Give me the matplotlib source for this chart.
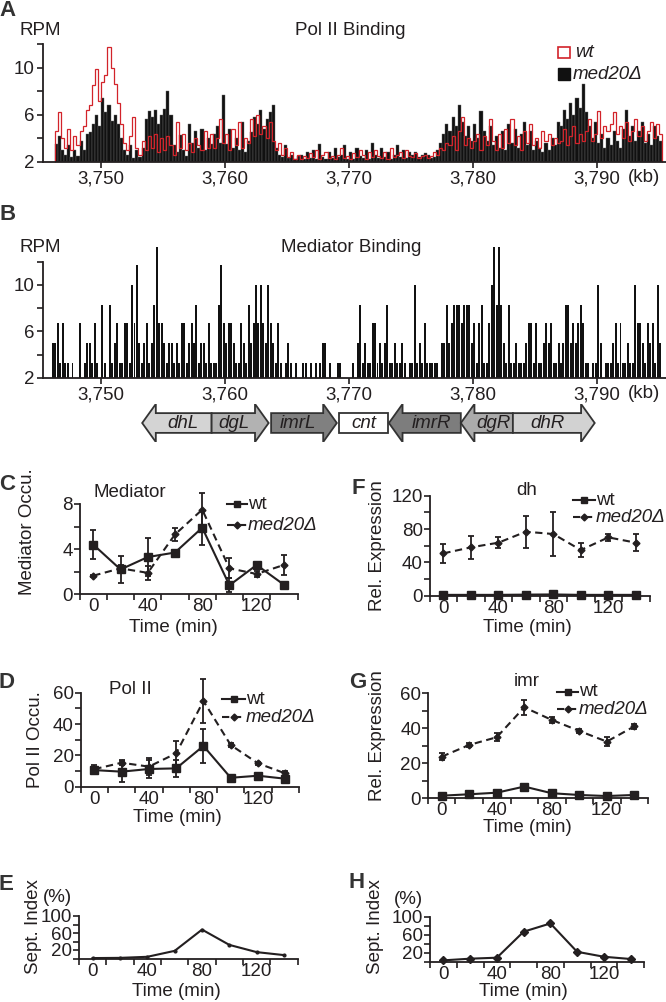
import numpy as np
import matplotlib
matplotlib.use("Agg")
import matplotlib.pyplot as plt
from matplotlib.patches import Polygon, Rectangle

plt.rcParams['font.family'] = ['Liberation Sans', 'DejaVu Sans']

W, H = 666, 1002
INK = '#231f20'
RED = '#d2232a'
FS = 13.5

# A: Pol II binding (RPM), 0.25 kb bins starting at 3746.25 kb
POL_BIN_START = 3746.25
POL_BIN_KB = 0.25
pol_med20 = [
    3.5, 4.2, 3.0,
    2.6, 3.4, 2.4, 3.0,  2.5, 3.8, 3.0, 4.4,  4.5, 5.2, 6.0, 5.0,
    7.4, 6.2, 6.8, 5.5,  6.0, 5.2, 4.0, 3.0,  2.6, 3.4, 2.3, 3.0,
    2.4, 3.2, 5.6, 6.3,  5.8, 6.4, 5.2, 6.0,  6.5, 8.0, 6.0, 3.4,
    2.8, 4.3, 3.0, 2.5,  5.2, 3.6, 4.6, 3.2,  4.8, 3.0, 4.0, 3.5,
    4.4, 5.0, 3.6, 7.7,  3.5, 4.8, 3.2, 4.0,  3.0, 5.4, 2.8, 3.8,
    4.5, 5.8, 5.2, 6.4,  4.8, 5.6, 6.2, 6.8,  3.2, 2.6, 2.4, 3.4,
    2.3, 2.6, 2.2, 2.5,  2.6, 2.2, 2.8, 2.3,  3.0, 2.2, 3.5, 2.4,
    2.2, 2.8, 2.3, 3.2,  2.4, 2.6, 3.4, 2.2,  2.8, 2.2, 3.2, 2.5,
    2.3, 3.0, 2.2, 3.6,  2.6, 2.3, 3.2, 2.4,  2.8, 2.2, 2.6, 3.4,
    2.4, 3.0, 2.3, 2.8,  2.6, 2.8, 2.4, 2.6,  2.7, 2.6, 2.3, 2.4,
    3.0, 3.6, 4.4, 5.2,  4.6, 5.8, 5.0, 6.8,  5.4, 4.2, 5.0, 3.8,
    5.2, 4.0, 6.3, 4.6,  3.8, 5.0, 3.4, 4.2,  3.2, 4.6, 3.0, 5.2,
    3.6, 4.8, 3.2, 4.4,  5.4, 3.4, 4.6, 3.0,  3.8, 3.2, 2.8, 3.6,
    3.0, 4.0, 3.4, 5.4,  5.0, 6.4, 5.6, 7.0,  6.0, 7.4, 6.6, 8.6,
    6.2, 5.0, 4.0, 5.4,  3.6, 4.4, 3.2, 4.0,  3.4, 4.6, 3.8, 3.2,
    4.8, 6.4, 4.2, 5.0,  3.8, 4.6, 5.4, 3.6,  4.4, 3.4, 5.0, 4.2,
    3.8,
]
pol_wt = [
    4.6, 6.2, 4.0,
    3.2, 4.8, 3.0, 4.2,  3.4, 4.6, 5.0, 6.4,  6.8, 8.5, 9.9, 7.2,
    8.8, 9.4, 11.8, 10.0,  8.6, 7.0, 5.2, 3.6,  3.0, 4.2, 5.8, 3.2,
    2.6, 3.8, 3.0, 4.2,  3.2, 4.4, 2.8, 4.0,  3.0, 4.2, 3.4, 2.6,
    5.4, 3.2, 4.4, 3.0,  3.6, 2.8, 4.0, 3.4,  3.0, 4.6, 3.2, 4.4,
    3.2, 4.0, 5.6, 3.6,  4.4, 3.0, 4.8, 3.4,  5.4, 3.2, 4.0, 3.6,
    5.6, 4.2, 6.0, 4.4,  5.0, 4.0, 5.4, 3.8,  3.0, 3.6, 2.6, 3.2,
    2.4, 2.8, 2.2, 2.6,  2.2, 2.5, 2.3, 2.7,  2.4, 3.0, 2.2, 2.6,
    2.8, 2.3, 2.5, 2.2,  2.6, 3.2, 2.3, 2.5,  2.2, 2.7, 2.4, 3.0,
    2.6, 2.2, 2.8, 2.4,  3.0, 2.5, 2.3, 2.8,  2.2, 3.2, 2.4, 2.6,
    2.8, 2.3, 3.0, 2.5,  2.4, 2.7, 2.3, 2.5,  2.6, 2.3, 2.5, 2.8,
    2.6, 3.2, 3.0, 3.6,  3.4, 4.2, 3.0, 4.6,  5.8, 3.4, 4.0, 3.2,
    3.8, 4.4, 3.0, 4.2,  3.4, 5.6, 3.8, 3.0,  4.4, 3.2, 4.8, 3.6,
    5.6, 3.4, 4.2, 3.0,  4.6, 3.6, 5.2, 3.4,  4.0, 3.2, 4.6, 3.8,
    4.4, 3.4, 4.0, 3.6,  3.8, 4.8, 3.4, 4.2,  5.0, 3.6, 4.4, 3.8,
    4.6, 5.6, 3.8, 4.4,  6.3, 4.0, 5.0, 4.6,  5.2, 6.2, 4.4, 5.0,
    4.0, 5.4, 3.8, 4.6,  5.6, 4.2, 5.0, 3.8,  4.6, 5.4, 4.0, 5.2,
    4.4,
]

# B: Mediator binding (RPM), 0.2 kb bins starting at 3746.0 kb, 0 = no reads
MED_BIN_START = 3746.0
MED_BIN_KB = 0.2
mediator = [
    5.0, 5.0, 6.7, 3.3, 6.7,   3.3, 3.3, 0, 3.3, 0,       0, 6.7, 0, 3.3, 5.0,
    5.0, 3.3, 6.7, 3.3, 0,     8.3, 3.3, 0, 8.3, 3.3,     5.0, 6.7, 3.3, 3.3, 6.7,
    6.7, 3.3, 10.0, 6.7, 11.7, 5.0, 3.3, 5.0, 6.7, 3.3,   5.0, 8.3, 13.3, 6.7, 6.7,
    5.0, 3.3, 5.0, 5.0, 3.3,   5.0, 3.3, 6.7, 6.7, 3.3,   5.0, 6.7, 5.0, 8.3, 3.3,
    5.0, 5.0, 3.3, 6.7, 3.3,   3.3, 3.3, 8.3, 11.7, 6.7,  5.0, 6.7, 6.7, 5.0, 3.3,
    3.3, 6.7, 5.0, 3.3, 8.3,   5.0, 6.7, 10.0, 6.7, 10.0, 6.7, 5.0, 10.0, 6.7, 5.0,
    3.3, 6.7, 3.3, 0, 3.3,     5.0, 3.3, 0, 3.3, 0,       0, 3.3, 3.3, 0, 3.3,
    0, 3.3, 0, 3.3, 5.0,       5.0, 0, 3.3, 0, 0,         3.3, 3.3, 0, 0, 0,
    0, 3.3, 0, 5.0, 8.3,       3.3, 5.0, 3.3, 3.3, 6.7,   6.7, 3.3, 5.0, 3.3, 5.0,
    8.3, 3.3, 3.3, 5.0, 3.3,   3.3, 5.0, 3.3, 0, 3.3,     3.3, 10.0, 3.3, 5.0, 3.3,
    6.7, 3.3, 3.3, 3.3, 3.3,   3.3, 0, 5.0, 5.0, 8.3,     5.0, 6.7, 8.3, 8.3, 8.3,
    6.7, 8.3, 8.3, 8.3, 5.0,   6.7, 3.3, 6.7, 8.3, 3.3,   3.3, 6.7, 10.0, 13.3, 8.3,
    13.3, 8.3, 5.0, 3.3, 8.3,  3.3, 3.3, 5.0, 3.3, 3.3,   3.3, 5.0, 6.7, 6.7, 3.3,
    6.7, 3.3, 3.3, 5.0, 6.7,   5.0, 6.7, 3.3, 3.3, 5.0,   3.3, 5.0, 8.3, 8.3, 5.0,
    6.7, 5.0, 6.7, 8.3, 6.7,   3.3, 3.3, 0, 3.3, 3.3,     10.0, 5.0, 0, 3.3, 3.3,
    3.3, 5.0, 6.7, 3.3, 6.7,   3.3, 3.3, 5.0, 3.3, 3.3,   10.0, 6.7, 6.7, 5.0, 3.3,
    6.7, 5.0, 6.7, 3.3, 10.0,  5.0,
]

# centromere 2 annotation (kb)
gene_names = ['dhL', 'dgL', 'imrL', 'cnt', 'imrR', 'dgR', 'dhR']
gene_start = [3753.3, 3758.9, 3763.7, 3769.2, 3773.2, 3779.0, 3783.2]
gene_end = [3758.9, 3763.5, 3769.0, 3773.1, 3779.0, 3783.2, 3789.8]
gene_head = ['left', 'right', 'right', None, 'left', 'left', 'right']
gene_fill = ['#d4d4d4', '#b2b2b2', '#808080', '#ffffff', '#7d7d7d', '#ababab', '#d2d2d2']

# time courses
time_min = [0, 20, 40, 60, 80, 100, 120, 140]

med_occ_wt = [4.4, 2.2, 3.3, 3.7, 5.9, 0.8, 2.6, 0.85]
med_occ_wt_err = [1.3, 1.2, 1.7, 0.2, 1.5, 0.6, 0.3, 0.2]
med_occ_mut = [1.65, 2.3, 1.9, 5.3, 7.5, 2.3, 1.8, 2.6]
med_occ_mut_err = [0.1, 0.3, 0.6, 0.6, 1.5, 0.9, 0.3, 0.9]

pol_occ_wt = [10.6, 9.6, 11.3, 11.7, 26.0, 5.7, 7.0, 5.1]
pol_occ_wt_err = [1.5, 6.5, 5.5, 5.5, 11.0, 1.0, 1.5, 1.5]
pol_occ_mut = [11.2, 15.3, 12.8, 21.3, 54.7, 26.6, 14.9, 8.5]
pol_occ_mut_err = [2.5, 1.5, 5.5, 8.0, 14.0, 1.0, 1.0, 1.5]

sept_wt = [1, 1.5, 4, 18, 68, 32, 15, 8]
sept_mut = [3, 6.7, 8.9, 66.7, 85, 22, 11, 6]

dh_wt = [1.0, 1.0, 1.0, 1.3, 1.5, 1.0, 1.0, 1.0]
dh_wt_err = [0.5, 0.5, 0.5, 0.6, 0.8, 0.5, 0.5, 0.5]
dh_mut = [50.8, 58.0, 63.6, 76.8, 74.0, 54.8, 70.0, 63.6]
dh_mut_err = [11.0, 14.0, 6.6, 19.0, 26.0, 8.4, 4.4, 10.0]

imr_wt = [1.5, 2.3, 3.2, 6.7, 2.9, 1.9, 1.3, 1.9]
imr_wt_err = [0.4, 0.4, 0.5, 0.8, 0.5, 0.4, 0.3, 0.4]
imr_mut = [23.8, 30.5, 34.9, 52.0, 44.8, 38.5, 32.4, 41.1]
imr_mut_err = [1.9, 1.0, 2.4, 4.3, 1.9, 1.0, 2.6, 1.3]

DASH = (0, (3.5, 2.2))


def px_axes(fig, left, top, right, bottom):
    return fig.add_axes([left / W, 1 - bottom / H, (right - left) / W, (bottom - top) / H])


def base_style(ax):
    for side in ['top', 'right']:
        ax.spines[side].set_visible(False)
    for side in ['left', 'bottom']:
        ax.spines[side].set_linewidth(1.3)
        ax.spines[side].set_color(INK)
    ax.patch.set_alpha(0)
    ax.tick_params(which='both', direction='out', width=1.2, color=INK,
                   labelsize=FS, labelcolor=INK)


def track_axes(fig, top, bottom):
    ax = px_axes(fig, 43, top, 666, bottom)
    base_style(ax)
    ax.set_xlim(3745.3, 3795.55)
    ax.set_ylim(2, 12)
    ax.set_yticks([2, 6, 10])
    ax.set_yticks([4, 8, 12], minor=True)
    ax.set_xticks([3750, 3760, 3770, 3780, 3790])
    ax.set_xticklabels([f"{v:,}" for v in [3750, 3760, 3770, 3780, 3790]])
    ax.tick_params(which='both', length=4, pad=2)
    return ax


def time_axes(fig, left, top, right, bottom, ymax, ylab, yminor):
    ax = px_axes(fig, left, top, right, bottom)
    base_style(ax)
    ax.set_xlim(-10, 150)
    ax.set_ylim(0, ymax)
    ax.set_xticks([0, 40, 80, 120])
    ax.set_xticks(np.arange(-10, 151, 20), minor=True)
    ax.tick_params(axis='x', which='major', length=0, pad=3)
    ax.tick_params(axis='x', which='minor', length=4)
    ax.set_yticks(ylab)
    ax.set_yticks(yminor, minor=True)
    ax.tick_params(axis='y', which='both', length=4, pad=1)
    return ax


def errline(ax, y, err, dashed, marker, ms):
    c = ax.errorbar(time_min, y, yerr=err, color=INK, lw=1.5,
                    ls=DASH if dashed else '-', marker=marker, ms=ms,
                    capsize=2.5, elinewidth=1.3, capthick=1.3)
    for art in c.get_children():
        art.set_clip_on(False)


def arrow_poly(x0, x1, head, hl=1.1, b0=0.24, b1=0.76):
    if head == 'left':
        pts = [(x0, 0.5), (x0 + hl, 1.0), (x0 + hl, b1), (x1, b1), (x1, b0),
               (x0 + hl, b0), (x0 + hl, 0.0)]
    elif head == 'right':
        pts = [(x0, b0), (x0, b1), (x1 - hl, b1), (x1 - hl, 1.0), (x1, 0.5),
               (x1 - hl, 0.0), (x1 - hl, b0)]
    else:
        pts = [(x0, b0), (x0, b1), (x1, b1), (x1, b0)]
    return pts


def main():
    fig = plt.figure(figsize=(W / 100, H / 100), dpi=100)
    ov = fig.add_axes([0, 0, 1, 1])
    ov.set_xlim(0, W)
    ov.set_ylim(H, 0)
    ov.axis('off')

    def txt(x, y, s, **kw):
        kw.setdefault('fontsize', FS)
        kw.setdefault('color', INK)
        ov.text(x, y, s, ha=kw.pop('ha', 'center'), va=kw.pop('va', 'center'), **kw)

    # ---- A
    ax = track_axes(fig, 44.2, 161.7)
    edges = POL_BIN_START + POL_BIN_KB * np.arange(len(pol_med20) + 1)
    med = np.array(pol_med20)
    ax.bar(edges[:-1], med - 2, bottom=2, width=POL_BIN_KB, align='edge',
           color='#111111', edgecolor='#666666', linewidth=0.3)
    ax.stairs(pol_wt, edges, baseline=2, color=RED, lw=0.9, clip_on=False)

    # ---- B
    bx = track_axes(fig, 261.7, 377.7)
    mx = MED_BIN_START + MED_BIN_KB * np.arange(len(mediator))
    mv = np.array(mediator)
    bx.bar(mx, np.clip(mv - 2, 0, None), bottom=2, width=MED_BIN_KB * 0.8,
           align='edge', color='#111111', linewidth=0, clip_on=False)

    # gene track
    gx = px_axes(fig, 43, 404, 666, 442)
    gx.set_xlim(3745.3, 3795.55)
    gx.set_ylim(0, 1)
    gx.axis('off')
    for name, s, e, hd, fc in zip(gene_names, gene_start, gene_end, gene_head, gene_fill):
        gx.add_patch(Polygon(arrow_poly(s, e, hd), closed=True, facecolor=fc,
                             edgecolor='#333333', lw=1.3, joinstyle='miter'))
        cx = (s + e) / 2 + (0.5 if hd == 'left' else -0.5 if hd == 'right' else 0)
        gx.text(cx, 0.48, name, ha='center', va='center', fontsize=FS,
                style='italic', color=INK)

    # ---- time courses
    cx_ = time_axes(fig, 79.7, 504, 297.5, 594.3, 8, [0, 4, 8], [2, 6])
    errline(cx_, med_occ_wt, med_occ_wt_err, False, 's', 5.5)
    errline(cx_, med_occ_mut, med_occ_mut_err, True, 'D', 3.5)

    dx = time_axes(fig, 80.7, 692.7, 298.9, 786.7, 60, [0, 20, 40, 60], [10, 30, 50])
    errline(dx, pol_occ_wt, pol_occ_wt_err, False, 's', 5.5)
    errline(dx, pol_occ_mut, pol_occ_mut_err, True, 'D', 3.5)

    ex = time_axes(fig, 79, 916, 297.7, 958.5, 100, [20, 60, 100], [0, 40, 80])
    ex.plot(time_min, sept_wt, color=INK, lw=1.5, marker='o', ms=2, clip_on=False)

    fx = time_axes(fig, 429.6, 495.7, 649.6, 595.7, 120, [0, 40, 80, 120], [20, 60, 100])
    errline(fx, dh_wt, dh_wt_err, False, 's', 5.5)
    errline(fx, dh_mut, dh_mut_err, True, 'D', 3.5)

    gx2 = time_axes(fig, 428, 693.3, 648, 798.3, 60, [0, 20, 40, 60], [10, 30, 50])
    errline(gx2, imr_wt, imr_wt_err, False, 's', 5.5)
    errline(gx2, imr_mut, imr_mut_err, True, 'D', 3.5)

    hx = time_axes(fig, 430, 916.7, 644, 961.7, 100, [20, 60, 100], [0, 40, 80])
    hx.plot(time_min, sept_mut, color=INK, lw=1.5, marker='D', ms=4, clip_on=False)

    # ---- annotation text
    bold = dict(fontsize=16, fontweight='bold', color='#333333')
    for letter, x, y in [('A', 8, 10), ('B', 8, 214), ('C', 7, 485), ('D', 6, 683),
                         ('E', 6, 884), ('F', 358, 488), ('G', 358, 682), ('H', 357, 883)]:
        txt(x, y, letter, **bold)

    txt(40, 30, 'RPM')
    txt(350, 30, 'Pol II Binding')
    txt(40, 247, 'RPM')
    txt(351, 247, 'Mediator Binding')
    txt(644, 177, '(kb)')
    txt(644, 393, '(kb)')

    # A legend
    ov.add_patch(Rectangle((558, 47), 12, 11, facecolor='white', edgecolor=RED, lw=1.2))
    ov.add_patch(Rectangle((558, 68), 12, 12, facecolor='#111111', edgecolor='#111111', lw=1))
    txt(575, 52, 'wt', ha='left', style='italic')
    txt(573, 74, 'med20Δ', ha='left', style='italic')

    txt(130, 492, 'Mediator')
    txt(130, 690, 'Pol II')
    txt(527, 490, 'dh')
    txt(527, 682, 'imr')

    for x, y, s in [(28, 532, 'Mediator Occu.'), (36, 740, 'Pol II Occu.'),
                    (33, 927, 'Sept. Index'), (378, 546, 'Rel. Expression'),
                    (378, 736, 'Rel. Expression'), (376, 927, 'Sept. Index')]:
        txt(x, y, s, rotation=90)

    for x, y in [(173, 627), (177, 817), (176, 991), (527, 628), (527, 828), (523, 991)]:
        txt(x, y, 'Time (min)')
    txt(57, 897, '(%)')
    txt(408, 899, '(%)')

    # line legends
    for x0, x1, y1, y2 in [(227, 247, 504, 525), (222, 245, 699, 717),
                           (573, 595, 500, 517), (557, 578, 692, 709)]:
        ov.plot([x0, x1], [y1, y1], color=INK, lw=1.5)
        ov.plot([(x0 + x1) / 2], [y1], marker='s', ms=5, color=INK)
        ov.plot([x0, x1], [y2, y2], color=INK, lw=1.5, ls=DASH)
        ov.plot([(x0 + x1) / 2], [y2], marker='D', ms=3.5, color=INK)
        txt(x1 + 1, y1, 'wt', ha='left')
        txt(x1 + 1, y2, 'med20Δ', ha='left', style='italic')

    fig.savefig('out.png', dpi=100)


if __name__ == '__main__':
    main()
